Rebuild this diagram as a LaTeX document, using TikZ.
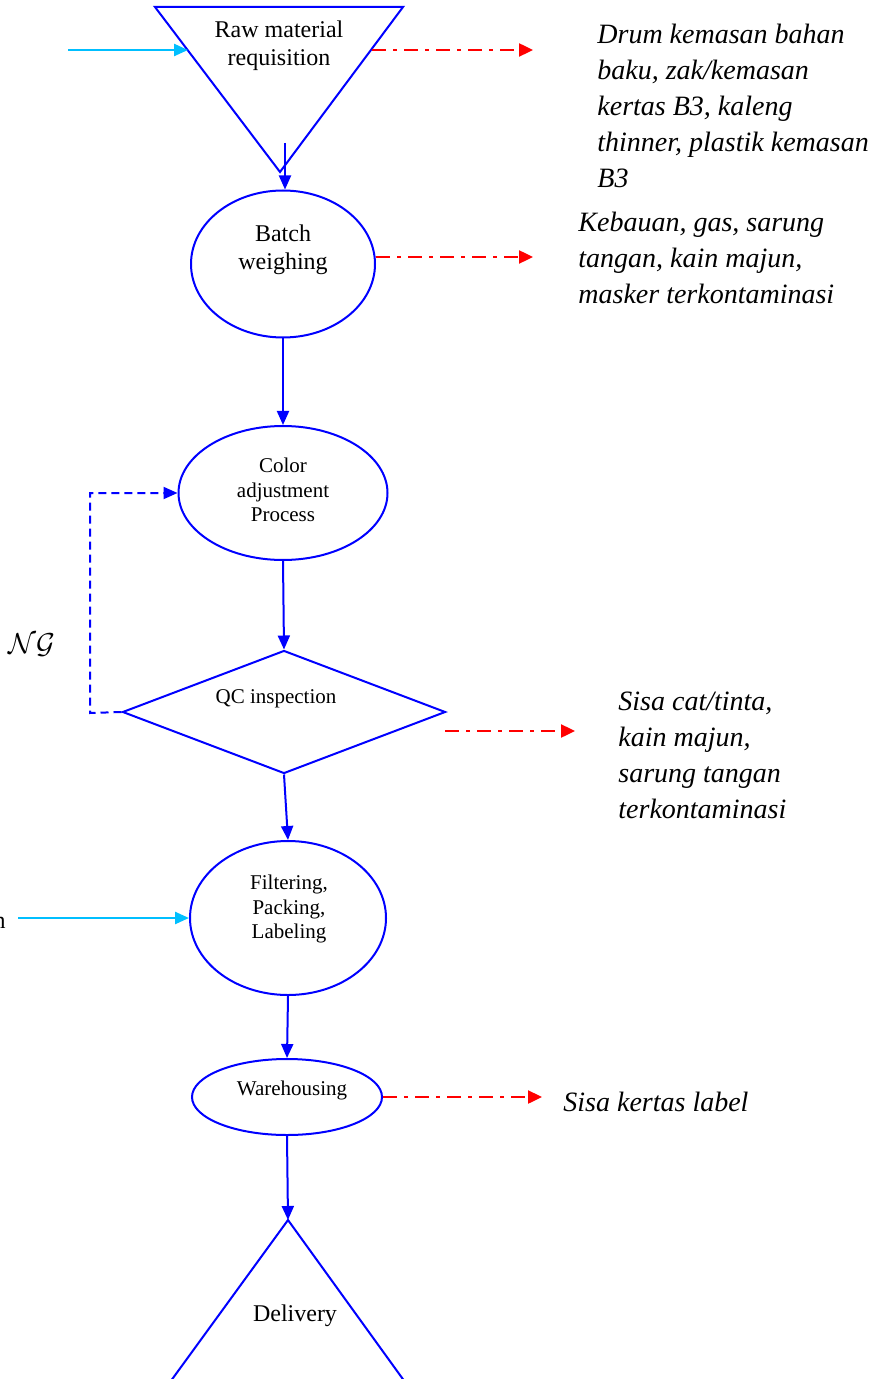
\documentclass[tikz,border=0pt]{standalone}
\usepackage{fontspec}
\setmainfont{Liberation Serif}
\usepackage{tikz}
\usetikzlibrary{arrows.meta,shapes.geometric}
\definecolor{flowblue}{HTML}{0000FF}
\definecolor{feedcyan}{HTML}{00BFFF}
\definecolor{wastered}{HTML}{FF0000}
\tikzset{
  shapeline/.style={draw=flowblue,line width=1pt},
  procnode/.style={ellipse,draw=flowblue,line width=1pt,inner sep=0pt},
  bigtext/.style={align=center,font=\fontsize{12}{14}\selectfont},
  smalltext/.style={align=center,font=\fontsize{10.5}{12.3}\selectfont},
  wastetext/.style={anchor=north west,inner sep=0pt,align=left,font=\fontsize{14}{18}\selectfont\itshape},
  flowarrow/.style={-{Triangle[length=7pt,width=6pt]},draw=flowblue,line width=1pt},
  feedarrow/.style={-{Triangle[length=7pt,width=6pt]},draw=feedcyan,line width=1.2pt},
  wastearrow/.style={-{Triangle[length=7pt,width=6.5pt]},draw=wastered,line width=1.2pt,dash pattern=on 7pt off 3.5pt on 2pt off 3.5pt},
  ngarrow/.style={-{Triangle[length=7pt,width=6pt]},draw=flowblue,line width=1pt,dash pattern=on 4pt off 2.5pt},
}
\begin{document}
\begin{tikzpicture}[x=0.5pt,y=-0.5pt]
  \useasboundingbox (0,0) rectangle (893,1379);
  % raw material requisition
  \draw[shapeline] (155,7) -- (403,7) -- (280,172) -- cycle;
  \node[bigtext] (rawtxt) at (279,46) {Raw material\\requisition};
  \coordinate (rawout) at (285,143);
  \coordinate (rawleft) at (188,50);
  \coordinate (rawright) at (372,50);
  \coordinate (rawin) at (68,50);
  % process steps
  \node[procnode,minimum width=92pt,minimum height=73.5pt] (batch) at (283,264) {};
  \node[bigtext] (batchtxt) at (283,250) {Batch\\weighing};
  \node[procnode,minimum width=104.5pt,minimum height=67pt] (color) at (283,493) {};
  \node[smalltext] (colortxt) at (283,490) {Color\\adjustment\\Process};
  \node[diamond,draw=flowblue,line width=1pt,inner sep=0pt,aspect=2.6,minimum width=161.5pt,minimum height=61.5pt] (qc) at (284,712) {};
  \node[smalltext] (qctxt) at (276,699) {QC inspection};
  \node[procnode,minimum width=98pt,minimum height=77pt] (filter) at (288,918) {};
  \node[smalltext] (filtertxt) at (289,909) {Filtering,\\Packing,\\Labeling};
  \node[procnode,minimum width=95pt,minimum height=38pt] (ware) at (287,1097) {};
  \node[smalltext] (waretxt) at (292,1090) {Warehousing};
  % delivery
  \draw[shapeline] (288,1220) -- (157,1400) -- (418,1400) -- cycle;
  \coordinate (delivtop) at (288,1220);
  \node[bigtext] (delivtxt) at (295,1316) {Delivery};
  % main flow
  \draw[flowarrow] (rawout) -- (rawout |- batch.north);
  \draw[flowarrow] (batch.south) -- (color.north);
  \draw[flowarrow] (color.south) -- (qc.north);
  \draw[flowarrow] (qc.south) -- (filter.north);
  \draw[flowarrow] (filter.south) -- (ware.north);
  \draw[flowarrow] (ware.south) -- (delivtop);
  % NG loop
  \node[font=\fontsize{15}{18}\selectfont] (ngtxt) at (32,645) {$\mathcal{NG}$};
  \coordinate (ngcorner) at (90,713);
  \draw[ngarrow] (qc.west) -- (ngcorner) |- (color.west);
  % inputs
  \coordinate (fillin) at (18,918);
  \node[anchor=base east,inner sep=0pt,font=\fontsize{12}{14}\selectfont] (filltxt) at (6,928) {n};
  \draw[feedarrow] (rawin) -- (rawleft);
  \draw[feedarrow] (fillin) -- (filter.west);
  % waste outputs
  \coordinate (w1end) at (533,50);
  \coordinate (w2start) at (376,257);
  \coordinate (w2end) at (533,257);
  \coordinate (w3start) at (445,731);
  \coordinate (w3end) at (575,731);
  \coordinate (w4end) at (542,1097);
  \draw[wastearrow] (rawright) -- (w1end);
  \draw[wastearrow] (w2start) -- (w2end);
  \draw[wastearrow] (w3start) -- (w3end);
  \draw[wastearrow] (ware.east) -- (w4end);
  \node[wastetext] (waste1) at (597,24) {Drum kemasan bahan\\baku, zak/kemasan\\kertas B3, kaleng\\thinner, plastik kemasan\\B3};
  \node[wastetext] (waste2) at (578,212) {Kebauan, gas, sarung\\tangan, kain majun,\\masker terkontaminasi};
  \node[wastetext] (waste3) at (618,692) {Sisa cat/tinta,\\kain majun,\\sarung tangan\\terkontaminasi};
  \node[wastetext] (waste4) at (563,1092) {Sisa kertas label};
\end{tikzpicture}
\end{document}
